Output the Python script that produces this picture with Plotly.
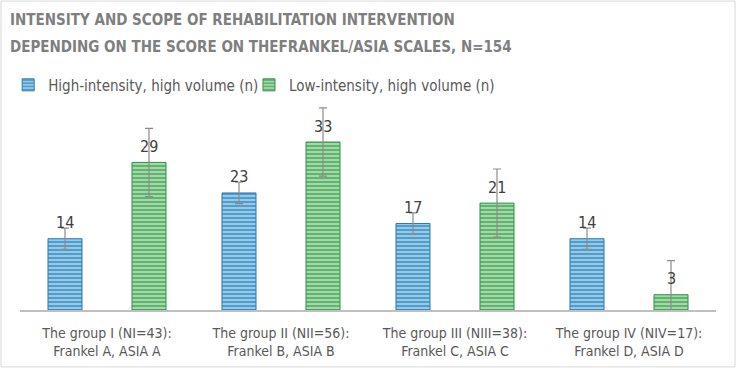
import plotly.graph_objects as go

categories = ["The group I (NI=43):<br>Frankel A, ASIA A",
              "The group II (NII=56):<br>Frankel B, ASIA B",
              "The group III (NIII=38):<br>Frankel C, ASIA C",
              "The group IV (NIV=17):<br>Frankel D, ASIA D"]
high_intensity = [14, 23, 17, 14]
low_intensity = [29, 33, 21, 3]
high_err = [2.1, 2.1, 2.1, 2.1]
low_err = [6.7, 6.7, 6.7, 6.7]
series_names = ["High-intensity, high volume (n)", "Low-intensity, high volume (n)"]

FONT = "Liberation Sans Narrow, DejaVu Sans Condensed, Arial Narrow, Liberation Sans, sans-serif"

fig = go.Figure()
fig.add_trace(go.Bar(
    x=categories, y=high_intensity, name=series_names[0], legend="legend",
    marker=dict(color="#7dbde4", line=dict(color="#2f78ab", width=1),
                pattern=dict(shape="-", fgcolor="#22699c", bgcolor="#8ecbec", size=4, solidity=0.5)),
    error_y=dict(type="data", array=high_err, color="#8c8c8c", thickness=1.2, width=4),
))
fig.add_trace(go.Bar(
    x=categories, y=low_intensity, name=series_names[1], legend="legend2",
    marker=dict(color="#8ccf95", line=dict(color="#33904a", width=1),
                pattern=dict(shape="-", fgcolor="#2b8642", bgcolor="#a0daa7", size=4, solidity=0.5)),
    error_y=dict(type="data", array=low_err, color="#8c8c8c", thickness=1.2, width=4),
))

for vals, shift in ((high_intensity, -42), (low_intensity, 42)):
    for c, v in zip(categories, vals):
        fig.add_annotation(x=c, y=v, text=str(v), showarrow=False, xshift=shift, yshift=16,
                           font=dict(family=FONT, size=16, color="#404040"))

fig.add_annotation(xref="paper", yref="paper", x=-0.0175, y=1.381, xanchor="left", yanchor="middle",
                   text="<b>INTENSITY AND SCOPE OF REHABILITATION INTERVENTION</b>", showarrow=False,
                   font=dict(family=FONT, size=15, color="#7f7f7f"))
fig.add_annotation(xref="paper", yref="paper", x=-0.0175, y=1.252, xanchor="left", yanchor="middle",
                   text="<b>DEPENDING ON THE SCORE ON THEFRANKEL/ASIA SCALES, N=154</b>", showarrow=False,
                   font=dict(family=FONT, size=15, color="#7f7f7f"))

fig.add_shape(type="rect", xref="paper", yref="paper", x0=-0.0273, x1=1.0273, y0=-0.271, y1=1.471,
              line=dict(color="#d9d9d9", width=1), fillcolor="rgba(0,0,0,0)", layer="below")

legend_font = dict(family=FONT, size=15, color="#595959")
fig.update_layout(
    width=737, height=369,
    margin=dict(l=20, r=21, t=100, b=59, autoexpand=False),
    paper_bgcolor="white", plot_bgcolor="white",
    barmode="group", bargap=0.0345, bargroupgap=0.595,
    showlegend=True,
    legend=dict(orientation="h", x=-0.017, xanchor="left", y=1.071, yanchor="middle",
                font=legend_font, itemwidth=30, bgcolor="rgba(0,0,0,0)"),
    legend2=dict(orientation="h", x=0.329, xanchor="left", y=1.071, yanchor="middle",
                 font=legend_font, itemwidth=30, bgcolor="rgba(0,0,0,0)"),
    xaxis=dict(showline=True, linecolor="#bfbfbf", linewidth=2, ticks="", ticklabelstandoff=9,
               tickfont=dict(family=FONT, size=14, color="#595959")),
    yaxis=dict(range=[0, 41.26], visible=False, showgrid=False),
)

fig.write_html("out.html", config={"displayModeBar": False},
               post_script="document.body.style.margin='0';")
